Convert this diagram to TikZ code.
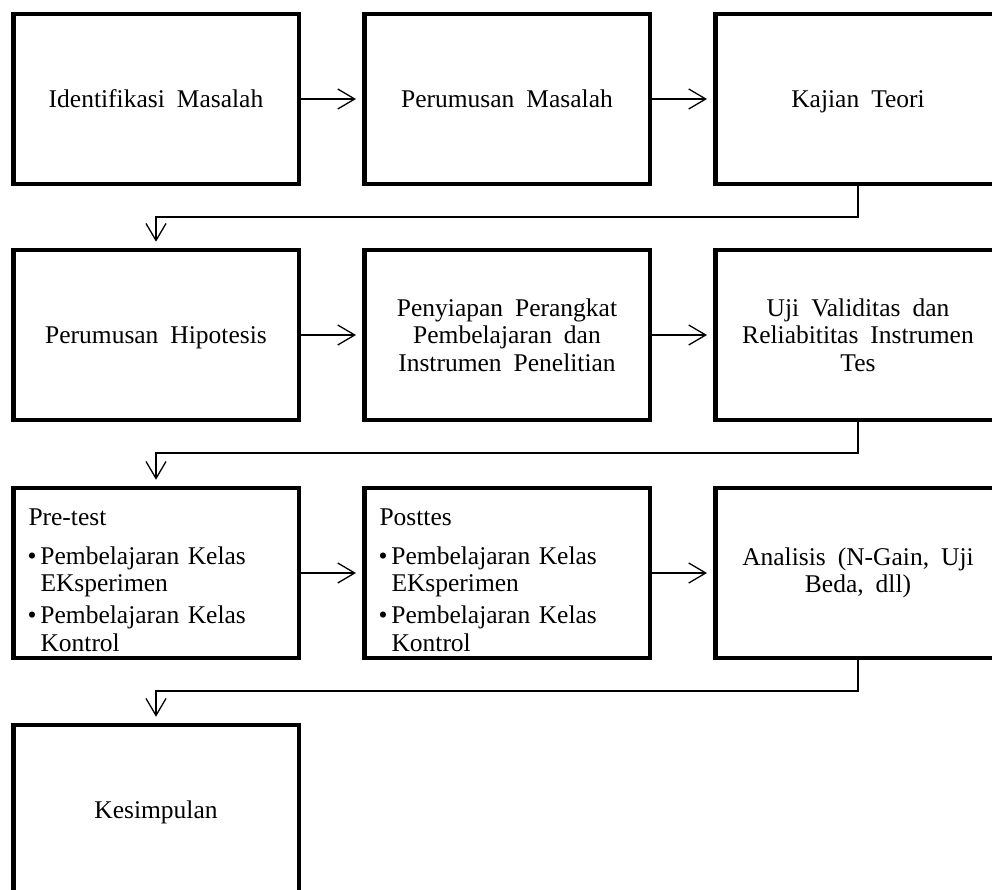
\documentclass[tikz,border=0pt]{standalone}
\usepackage{fontspec}
\setmainfont{Liberation Serif}
\usetikzlibrary{arrows.meta}
\newcommand{\diagfont}{\fontsize{25.5}{27.5}\selectfont\spaceskip=12pt plus 3pt minus 1pt\relax}
\newcommand{\bul}{\leavevmode\llap{\textbullet\hspace{4pt}}}
\begin{document}
\begin{tikzpicture}[x=1pt,y=-1pt,
  box/.style={draw=black, line width=4.5pt, minimum width=285.5pt, minimum height=170pt,
    inner sep=0pt, align=center, font=\diagfont},
  oneline/.style={box, text height=17.4pt, text depth=0pt},
  listbox/.style={box, align=left, text width=231pt, inner xsep=27.25pt},
  conn/.style={line width=1.3pt, -{Straight Barb[length=17pt,width=20pt]}, shorten >=6pt}
]
\useasboundingbox (0,0) rectangle (992,890);
\fill[white] (0,0) rectangle (992,890);
\clip (0,0) rectangle (992,890);

\node[oneline] (a1) at (156,99) {Identifikasi Masalah};
\node[oneline] (a2) at (507,99) {Perumusan Masalah};
\node[oneline] (a3) at (858,99) {Kajian Teori};

\node[oneline] (b1) at (156,335) {Perumusan Hipotesis};
\node[box] (b2) at (507,335) {Penyiapan Perangkat\\Pembelajaran dan\\Instrumen Penelitian};
\node[box] (b3) at (858,335) {Uji Validitas dan\\Reliabititas Instrumen\\Tes};

\node[listbox] (c1) at (156,573) {\hspace*{-12pt}\rule{0pt}{30.4pt}Pre-test\\[11.5pt]
  \bul Pembelajaran Kelas\\
  EKsperimen\\[4.5pt]
  \bul Pembelajaran Kelas\\
  Kontrol};
\node[listbox] (c2) at (507,573) {\hspace*{-12pt}\rule{0pt}{30.4pt}Posttes\\[11.5pt]
  \bul Pembelajaran Kelas\\
  EKsperimen\\[4.5pt]
  \bul Pembelajaran Kelas\\
  Kontrol};
\node[box] (c3) at (858,573) {Analisis (N-Gain, Uji\\Beda, dll)};

\node[oneline] (d1) at (156,810) {Kesimpulan};

\coordinate (m1) at (156,217);
\coordinate (m2) at (156,453);
\coordinate (m3) at (156,691);

\draw[conn] (a1) -- (a2);
\draw[conn] (a2) -- (a3);
\draw[conn] (a3.south) |- (m1) -- (b1.north);
\draw[conn] (b1) -- (b2);
\draw[conn] (b2) -- (b3);
\draw[conn] (b3.south) |- (m2) -- (c1.north);
\draw[conn] (c1) -- (c2);
\draw[conn] (c2) -- (c3);
\draw[conn] (c3.south) |- (m3) -- (d1.north);
\end{tikzpicture}
\end{document}
